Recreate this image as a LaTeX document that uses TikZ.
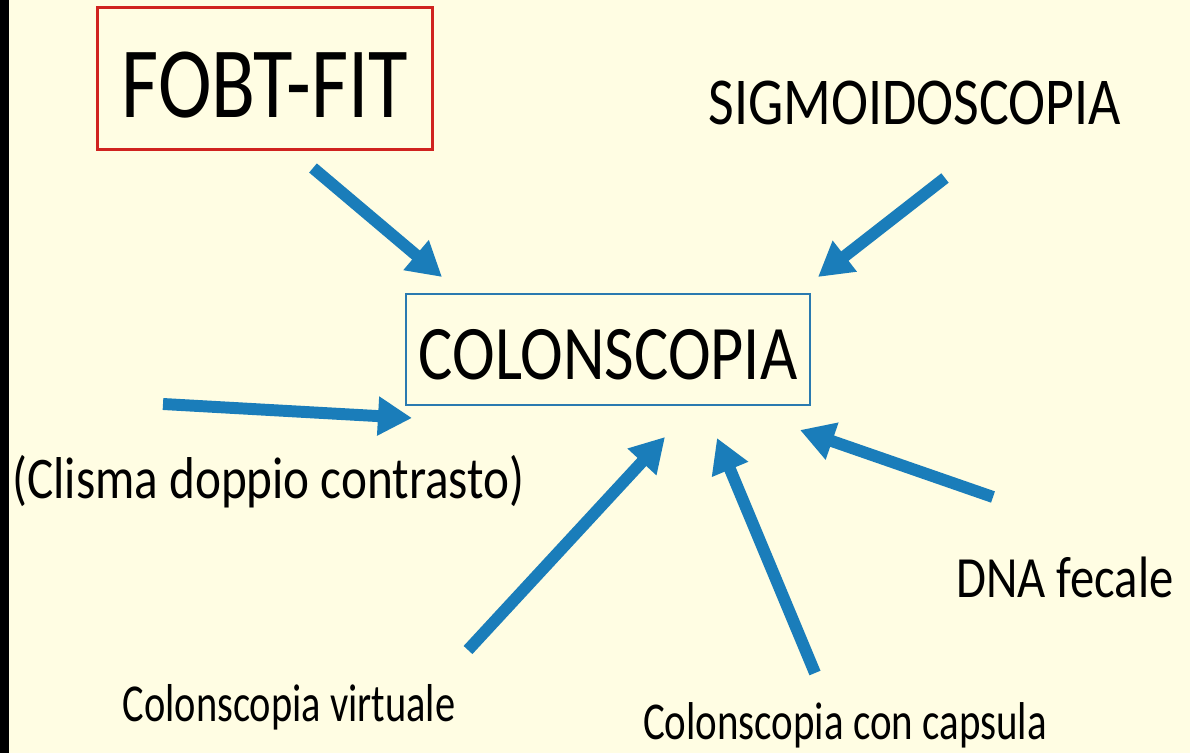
\documentclass[tikz,border=0pt]{standalone}
\usepackage{fontspec}
\setmainfont{Carlito}
\usepackage{xcolor}
\usetikzlibrary{arrows.meta,positioning}
\definecolor{slidebg}{HTML}{FFFDE3}
\definecolor{arrowblue}{HTML}{1A7DBA}
\definecolor{boxblue}{HTML}{2A7AB0}
\definecolor{boxred}{HTML}{D0231F}
\newcommand{\tallt}[2][1.2]{\scalebox{1}[#1]{#2}}

\begin{document}
\begin{tikzpicture}[x=0.02cm, y=-0.02cm,
  lbl/.style={inner sep=0pt, anchor=base},
  arr/.style={draw=arrowblue, line width=6.8pt, -{Triangle[length=0.68cm, width=0.74cm]}}]
\useasboundingbox (0,0) rectangle (1190,753);
\fill[slidebg] (0,0) rectangle (1190,753);
\fill[black] (0,0) rectangle (9,753);
\node[draw=boxred, line width=1.7pt, inner sep=0pt, minimum width=6.72cm,
      text height=2.22cm, text depth=0.64cm, font=\fontsize{46}{50}\selectfont] (fobt) at (265,78.5) {\tallt[1.25]{FOBT-FIT}};
\node[draw=boxblue, line width=1.4pt, inner sep=0pt, minimum width=8.08cm,
      text height=1.72cm, text depth=0.5cm, font=\fontsize{36.6}{40}\selectfont] (colon) at (608,349.5) {\tallt{COLONSCOPIA}};
\node[lbl, font=\fontsize{31.8}{34}\selectfont] (sigmo) at (915,125) {\tallt{SIGMOIDOSCOPIA}};
\node[lbl, font=\fontsize{28}{30}\selectfont] (clisma) at (268.5,498) {\tallt{(Clisma doppio contrasto)}};
\node[lbl, font=\fontsize{27.7}{30}\selectfont] (dna) at (1065,597) {\tallt{DNA fecale}};
\node[lbl, font=\fontsize{23}{25}\selectfont] (virt) at (289,721) {\tallt[1.32]{Colonscopia virtuale}};
\node[lbl, font=\fontsize{23.3}{25}\selectfont] (caps) at (845,739) {\tallt[1.3]{Colonscopia con capsula}};
\coordinate (fobt-s) at (313,168);
\coordinate (fobt-e) at (442,277);
\coordinate (sigmo-s) at (945,178);
\coordinate (sigmo-e) at (818,277);
\coordinate (clisma-s) at (163,404);
\coordinate (clisma-e) at (412,418);
\coordinate (virt-s) at (468,650);
\coordinate (virt-e) at (665,437);
\coordinate (caps-s) at (815,673);
\coordinate (caps-e) at (717,438);
\coordinate (dna-s) at (993,497);
\coordinate (dna-e) at (800,430);
\draw[arr] (fobt-s) -- (fobt-e);
\draw[arr] (sigmo-s) -- (sigmo-e);
\draw[arr] (clisma-s) -- (clisma-e);
\draw[arr] (virt-s) -- (virt-e);
\draw[arr] (caps-s) -- (caps-e);
\draw[arr] (dna-s) -- (dna-e);
\end{tikzpicture}
\end{document}
